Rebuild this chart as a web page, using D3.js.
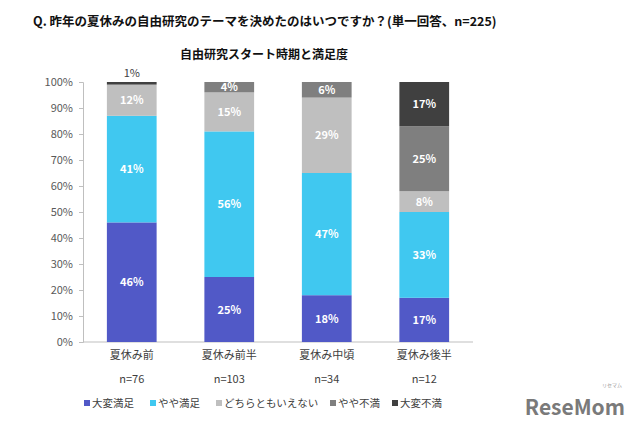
<!DOCTYPE html>
<html><head><meta charset="utf-8">
<script src="https://cdn.jsdelivr.net/npm/d3@7"></script>
<style>
body{margin:0;background:#fff;}
text{font-family:"Noto Sans CJK JP","Noto Sans",sans-serif;}
</style></head>
<body><svg id="c" width="640" height="425"></svg>
<script>
const categories = ["夏休み前","夏休み前半","夏休み中頃","夏休み後半"];
const sampleSizes = ["n=76","n=103","n=34","n=12"];
const seriesNames = ["大変満足","やや満足","どちらともいえない","やや不満","大変不満"];
const verySatisfied = [46,25,18,17];
const somewhatSatisfied = [41,56,47,33];
const neutral = [12,15,29,8];
const somewhatDissatisfied = [0,4,6,25];
const veryDissatisfied = [1,0,0,17];
const yTicks = [0,10,20,30,40,50,60,70,80,90,100];
const colors = ["#5159C7","#40C8F0","#BFBFBF","#7F7F7F","#404040"];

const seriesVals = [verySatisfied,somewhatSatisfied,neutral,somewhatDissatisfied,veryDissatisfied];
const rows = categories.map((c,i)=>{const o={cat:c};seriesNames.forEach((s,j)=>o[s]=seriesVals[j][i]);return o;});
const stack = d3.stack().keys(seriesNames)(rows);

const svg = d3.select("#c");
const x = d3.scaleBand().domain(categories).range([83,473]).paddingInner(0.49).paddingOuter(0.245);
const y = d3.scaleLinear().domain([0,100]).range([342,82]);

svg.append("text").attr("x",33).attr("y",26).attr("font-size",12.5).attr("font-weight","bold").attr("fill","#111")
  .text("Q. 昨年の夏休みの自由研究のテーマを決めたのはいつですか？(単一回答、n=225)");
svg.append("text").attr("x",264).attr("y",59).attr("text-anchor","middle").attr("font-size",12).attr("font-weight","bold").attr("fill","#111")
  .text("自由研究スタート時期と満足度");

// y axis
const yAxis = d3.axisLeft(y).tickValues(yTicks).tickFormat(d=>d+"%").tickSize(4).tickPadding(6);
const ga = svg.append("g").attr("transform","translate(83,0)").call(yAxis);
ga.select(".domain").attr("stroke","#bfbfbf");
ga.selectAll(".tick line").attr("stroke","#bfbfbf");
ga.selectAll(".tick text").attr("fill","#595959").attr("font-size",11).attr("font-family","'DejaVu Sans',sans-serif");

// baseline
svg.append("line").attr("x1",83).attr("x2",473).attr("y1",y(0)).attr("y2",y(0)).attr("stroke","#bfbfbf");

// bars
const layers = svg.append("g").selectAll("g").data(stack).join("g").attr("fill",(d,i)=>colors[i]);
layers.selectAll("rect").data(d=>d).join("rect")
  .attr("x",d=>x(d.data.cat)).attr("width",x.bandwidth())
  .attr("y",d=>y(d[1])).attr("height",d=>y(d[0])-y(d[1]));

// labels
stack.forEach((layer,li)=>{
  layer.forEach(d=>{
    const v = d[1]-d[0];
    if(v<=0) return;
    const cx = x(d.data.cat)+x.bandwidth()/2;
    if(v<3){
      svg.append("text").attr("x",cx).attr("y",y(d[1])-5).attr("text-anchor","middle")
        .attr("font-size",11).attr("fill","#404040").attr("font-family","'DejaVu Sans',sans-serif").text(v+"%");
    } else {
      svg.append("text").attr("x",cx).attr("y",(y(d[0])+y(d[1]))/2+4).attr("text-anchor","middle")
        .attr("font-size",11).attr("font-weight","bold").attr("fill","#fff").attr("font-family","Verdana,'DejaVu Sans',sans-serif").text(v+"%");
    }
  });
});

// category labels
categories.forEach((c,i)=>{
  const cx = x(c)+x.bandwidth()/2;
  svg.append("text").attr("x",cx).attr("y",359).attr("text-anchor","middle").attr("font-size",11).attr("fill","#404040").text(c);
  svg.append("text").attr("x",cx).attr("y",383).attr("text-anchor","middle").attr("font-size",11).attr("fill","#404040").attr("font-family","'DejaVu Sans',sans-serif").text(sampleSizes[i]);
});

// legend
const legX = [84,150,216,330,392];
seriesNames.forEach((s,i)=>{
  const g = svg.append("g").attr("transform",`translate(${legX[i]},407)`);
  g.append("rect").attr("x",0).attr("y",-7).attr("width",6).attr("height",6).attr("fill",colors[i]);
  g.append("text").attr("x",8).attr("y",0).attr("font-size",10.5).attr("fill","#404040").text(s);
});

// logo
svg.append("text").attr("x",625).attr("y",415).attr("text-anchor","end").attr("font-size",21).attr("font-weight","bold")
  .attr("fill","#7a7a7a").attr("font-family","'Liberation Sans Narrow','DejaVu Sans Condensed',sans-serif").text("ReseMom");
svg.append("text").attr("x",612).attr("y",387).attr("text-anchor","middle").attr("font-size",5).attr("fill","#999").text("リセマム");
</script></body></html>
